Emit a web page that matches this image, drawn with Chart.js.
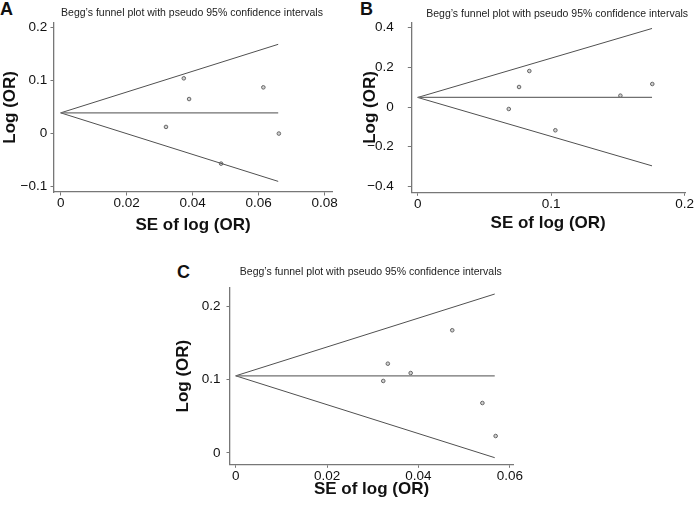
<!DOCTYPE html>
<html><head><meta charset="utf-8">
<script src="https://cdn.jsdelivr.net/npm/chart.js@4.4.1/dist/chart.umd.min.js"></script>
<style>
html,body{margin:0;padding:0;background:#fff;width:694px;height:506px;overflow:hidden;position:relative}
canvas{position:absolute}
.lbl{position:absolute;font:bold 18px "Liberation Sans",Arial,sans-serif;line-height:18px;color:#111}
</style></head><body>
<div class="lbl" style="left:0px;top:0px">A</div>
<div class="lbl" style="left:360px;top:0px">B</div>
<div class="lbl" style="left:177px;top:263px">C</div>
<canvas id="cA" width="347" height="250" style="left:0px;top:0px"></canvas>
<canvas id="cB" width="347" height="250" style="left:347px;top:0px"></canvas>
<canvas id="cC" width="360" height="251" style="left:170px;top:255px"></canvas>
<script>
// ---- DATA ----
const plotTitle = "Begg\u2019s funnel plot with pseudo 95% confidence intervals";
const xTitle = "SE of log (OR)";
const yTitle = "Log (OR)";

// Panel A
const seA = [0.0373, 0.0389, 0.0614, 0.0319, 0.0661, 0.0486];
const logOrA = [0.104, 0.065, 0.087, 0.0125, 0.0, -0.0566];
const pooledA = [0.039];
const funnelSeA = [0, 0.0659];
const upperA = [0.039, 0.168];
const lowerA = [0.039, -0.090];
const xTicksA = [0, 0.02, 0.04, 0.06, 0.08];
const xLabelsA = ["0", "0.02", "0.04", "0.06", "0.08"];
const yTicksA = [-0.1, 0, 0.1, 0.2];
const yLabelsA = ["\u22120.1", "0", "0.1", "0.2"];

// Panel B
const seB = [0.0682, 0.0759, 0.0836, 0.1031, 0.1518, 0.1757];
const logOrB = [-0.010, 0.1006, 0.181, -0.117, 0.057, 0.1157];
const pooledB = [0.048];
const funnelSeB = [0, 0.1755];
const upperB = [0.048, 0.395];
const lowerB = [0.048, -0.296];
const xTicksB = [0, 0.1, 0.2];
const xLabelsB = ["0", "0.1", "0.2"];
const yTicksB = [-0.4, -0.2, 0, 0.2, 0.4];
const yLabelsB = ["\u22120.4", "\u22120.2", "0", "0.2", "0.4"];

// Panel C
const seC = [0.0323, 0.0333, 0.0383, 0.0474, 0.0540, 0.0569];
const logOrC = [0.098, 0.1215, 0.1088, 0.167, 0.068, 0.0231];
const pooledC = [0.105];
const funnelSeC = [0, 0.0567];
const upperC = [0.105, 0.2163];
const lowerC = [0.105, -0.0064];
const xTicksC = [0, 0.02, 0.04, 0.06];
const xLabelsC = ["0", "0.02", "0.04", "0.06"];
const yTicksC = [0, 0.1, 0.2];
const yLabelsC = ["0", "0.1", "0.2"];

// ---- RENDER ----
const FONT = '"Liberation Sans", Arial, Helvetica, sans-serif';
Chart.defaults.font.family = FONT;

const titleShift = {
  id: 'titleShift',
  afterLayout(chart, args, opts) {
    const t = chart.titleBlock;
    if (t && opts && opts.dx) { t.left += opts.dx; t.right += opts.dx; }
  }
};

function pts(xs, ys) { return xs.map((x, i) => ({x: x, y: ys[i]})); }
function labelFor(ticks, labels) {
  return v => { const i = ticks.findIndex(t => Math.abs(t - v) < 1e-9); return i >= 0 ? labels[i] : ''; };
}

function makeChart(id, d, L) {
  const pooledLine = [{x: d.fse[0], y: d.pooled[0]}, {x: d.fse[1], y: d.pooled[0]}];
  return new Chart(document.getElementById(id), {
    type: 'scatter',
    data: { datasets: [
      {data: pooledLine, showLine: true, pointRadius: 0, borderColor: '#707070', borderWidth: 1.2},
      {data: pts(d.fse, d.upper), showLine: true, pointRadius: 0, borderColor: '#505050', borderWidth: 1},
      {data: pts(d.fse, d.lower), showLine: true, pointRadius: 0, borderColor: '#505050', borderWidth: 1},
      {data: pts(d.se, d.lor), pointRadius: 1.8, pointHoverRadius: 1.8, borderWidth: 1,
       borderColor: '#666', backgroundColor: '#d0d0d0'}
    ]},
    plugins: [titleShift],
    options: {
      responsive: false, animation: false, devicePixelRatio: 1,
      events: [],
      layout: {padding: {left: 0, top: 0, bottom: 0, right: L.padRight}},
      plugins: {
        legend: {display: false}, tooltip: {enabled: false},
        titleShift: {dx: L.titleDx},
        title: {display: true, text: plotTitle, fullSize: false, color: '#222',
                font: {size: 10.5, weight: 'normal', family: FONT},
                padding: {top: L.titleTop, bottom: L.titleBottom}}
      },
      scales: {
        x: {
          type: 'linear', min: L.xMin, max: L.xMax,
          afterBuildTicks: s => { s.ticks = d.xt.map(v => ({value: v})); },
          afterFit: s => { s.height = L.xH; s.paddingLeft = 0; s.paddingRight = 0; },
          ticks: {callback: labelFor(d.xt, d.xl), font: {size: 13.5}, color: '#111',
                  padding: L.xPad, maxRotation: 0, autoSkip: false},
          grid: {display: true, drawOnChartArea: false, drawTicks: true, tickLength: 3.5, color: '#777', lineWidth: 1},
          border: {display: true, color: '#777', width: 1.3},
          title: {display: true, text: xTitle, color: '#111', font: {size: 17, weight: 'bold'},
                  padding: {top: 0, bottom: L.xTitlePad}}
        },
        y: {
          type: 'linear', min: L.yMin, max: L.yMax,
          afterBuildTicks: s => { s.ticks = d.yt.map(v => ({value: v})); },
          afterFit: s => { s.width = L.yW; s.paddingTop = 0; s.paddingBottom = 0; },
          ticks: {callback: labelFor(d.yt, d.yl), font: {size: 13.5}, color: '#111',
                  padding: L.yPad, autoSkip: false},
          grid: {display: true, drawOnChartArea: false, drawTicks: true, tickLength: 3.5, color: '#777', lineWidth: 1},
          border: {display: true, color: '#777', width: 1.3},
          title: {display: true, text: yTitle, color: '#111', font: {size: 17, weight: 'bold'},
                  padding: {top: L.yTitlePad, bottom: 0}}
        }
      }
    }
  });
}

makeChart('cA',
  {se: seA, lor: logOrA, pooled: pooledA, fse: funnelSeA, upper: upperA, lower: lowerA,
   xt: xTicksA, xl: xLabelsA, yt: yTicksA, yl: yLabelsA},
  {padRight: 15, titleDx: -1, titleTop: 7, titleBottom: 3.1, xMin: -0.00203, xMax: 0.0822,
   yMin: -0.110, yMax: 0.2087, xH: 58, yW: 54, xPad: 0, yPad: 3.3, xTitlePad: 14, yTitlePad: 0.6});

makeChart('cB',
  {se: seB, lor: logOrB, pooled: pooledB, fse: funnelSeB, upper: upperB, lower: lowerB,
   xt: xTicksB, xl: xLabelsB, yt: yTicksB, yl: yLabelsB},
  {padRight: 9, titleDx: 9, titleTop: 7.8, titleBottom: 2.3, xMin: -0.0048, xMax: 0.2002,
   yMin: -0.429, yMax: 0.424, xH: 57.7, yW: 64.3, xPad: 0, yPad: 14, xTitlePad: 16.5, yTitlePad: 13});

makeChart('cC',
  {se: seC, lor: logOrC, pooled: pooledC, fse: funnelSeC, upper: upperC, lower: lowerC,
   xt: xTicksC, xl: xLabelsC, yt: yTicksC, yl: yLabelsC},
  {padRight: 17, titleDx: -0.7, titleTop: 10.7, titleBottom: 9.7, xMin: -0.00125, xMax: 0.0607,
   yMin: -0.0154, yMax: 0.2245, xH: 41.7, yW: 60, xPad: 0, yPad: 6, xTitlePad: 6.5, yTitlePad: 3});
</script>
</body></html>
